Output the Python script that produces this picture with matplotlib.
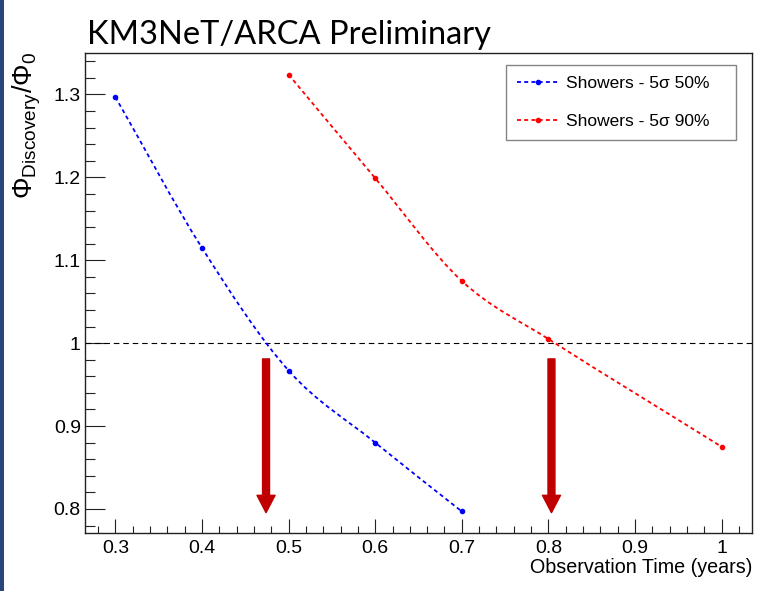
import matplotlib
matplotlib.use("Agg")
import matplotlib.pyplot as plt
from matplotlib.path import Path
from matplotlib.patches import PathPatch, FancyArrowPatch, Rectangle
from matplotlib.lines import Line2D
from matplotlib.ticker import MultipleLocator
import numpy as np

# ---- data -------------------------------------------------------------
obs_time_50 = [0.3, 0.4, 0.5, 0.6, 0.7]
ratio_50 = [1.297, 1.115, 0.967, 0.880, 0.797]

obs_time_90 = [0.5, 0.6, 0.7, 0.8, 1.0]
ratio_90 = [1.324, 1.199, 1.075, 1.005, 0.875]

series_labels = ["Showers - 5\u03c3 50%", "Showers - 5\u03c3 90%"]
series_colors = ["#0000ff", "#ff0000"]

# observation times where each curve reaches the reference flux
crossing_times = [0.474, 0.8035]
threshold = 1.0

title_text = "KM3NeT/ARCA Preliminary"
x_title = "Observation Time (years)"
y_title = r"$\Phi_{\rm Discovery}/\Phi_{0}$"

# ---- style ------------------------------------------------------------
plt.rcParams["font.family"] = ["Liberation Sans", "DejaVu Sans"]
plt.rcParams["mathtext.fontset"] = "custom"
plt.rcParams["mathtext.rm"] = "Liberation Sans"
plt.rcParams["mathtext.it"] = "Liberation Sans:italic"
plt.rcParams["mathtext.bf"] = "Liberation Sans:bold"

fig = plt.figure(figsize=(7.68, 5.91), dpi=100)
ax = fig.add_axes([85 / 768, 58 / 591, 667 / 768, 480 / 591])

# thin dark band on the left edge of the slide
fig.add_artist(Rectangle((0, 0), 4 / 768, 1, transform=fig.transFigure,
                         facecolor="#29457a", edgecolor="none"))


def smooth_path(xs, ys):
    """Cubic Hermite curve through the points, as a Bezier path."""
    xs = np.asarray(xs, float)
    ys = np.asarray(ys, float)
    n = len(xs)
    m = np.empty(n)
    m[0] = (ys[1] - ys[0]) / (xs[1] - xs[0])
    m[-1] = (ys[-1] - ys[-2]) / (xs[-1] - xs[-2])
    for i in range(1, n - 1):
        m[i] = (ys[i + 1] - ys[i - 1]) / (xs[i + 1] - xs[i - 1])
    verts = [(xs[0], ys[0])]
    codes = [Path.MOVETO]
    for i in range(n - 1):
        h = xs[i + 1] - xs[i]
        verts += [(xs[i] + h / 3, ys[i] + m[i] * h / 3),
                  (xs[i + 1] - h / 3, ys[i + 1] - m[i + 1] * h / 3),
                  (xs[i + 1], ys[i + 1])]
        codes += [Path.CURVE4] * 3
    return Path(verts, codes)


dash = (0, (2.2, 1.8))
handles = []
for xs, ys, col, lab in [(obs_time_50, ratio_50, series_colors[0], series_labels[0]),
                         (obs_time_90, ratio_90, series_colors[1], series_labels[1])]:
    ax.add_patch(PathPatch(smooth_path(xs, ys), facecolor="none", edgecolor=col,
                           linewidth=1.3, linestyle=dash, zorder=3))
    ax.plot(xs, ys, linestyle="none", marker="o", markersize=3.0, color=col, zorder=4)
    handles.append(Line2D([], [], color=col, linewidth=1.3, linestyle=dash,
                          marker="o", markersize=3.0, label=lab))

# reference level
ax.axhline(threshold, color="black", linewidth=0.8, linestyle=(0, (5, 3.5)), zorder=2)

# arrows marking the crossing times
for t in crossing_times:
    arr = FancyArrowPatch((t, 0.981), (t, 0.7955),
                          arrowstyle="simple,head_length=12.5,head_width=13,tail_width=5",
                          mutation_scale=1, shrinkA=0, shrinkB=0,
                          color="#c00000", zorder=5)
    ax.add_patch(arr)

ax.set_xlim(0.265, 1.035)
ax.set_ylim(0.771, 1.35)

ax.xaxis.set_major_locator(MultipleLocator(0.1))
ax.xaxis.set_minor_locator(MultipleLocator(0.02))
ax.yaxis.set_major_locator(MultipleLocator(0.1))
ax.yaxis.set_minor_locator(MultipleLocator(0.02))
ax.xaxis.set_major_formatter(plt.FuncFormatter(lambda v, p: f"{v:g}"))
ax.yaxis.set_major_formatter(plt.FuncFormatter(lambda v, p: f"{v:g}"))

ax.tick_params(axis="both", which="both", direction="in", top=False, right=False,
               width=0.8, colors="#222222", labelsize=14, labelcolor="black")
ax.tick_params(axis="y", which="major", length=14.4, pad=3)
ax.tick_params(axis="y", which="minor", length=7.2)
ax.tick_params(axis="x", which="major", length=10, pad=5)
ax.tick_params(axis="x", which="minor", length=5)

for sp in ax.spines.values():
    sp.set_linewidth(1.0)
    sp.set_color("#222222")

ax.set_xlabel(x_title, loc="right", fontsize=14.2, labelpad=1)

# y title, aligned with the top of the frame
fig.text(27 / 768, 1 - 52 / 591, y_title, rotation=90, fontsize=19.5,
         ha="center", va="top")

leg = ax.legend(handles=handles, loc="upper left",
                bbox_to_anchor=(506 / 768, 1 - 140 / 591, 230 / 768, 75 / 591),
                bbox_transform=fig.transFigure, mode="expand",
                fontsize=12.5, frameon=True, fancybox=False, shadow=False,
                handlelength=2.35, handletextpad=0.45, labelspacing=1.3,
                borderpad=0.65, borderaxespad=0, numpoints=1)
leg.get_frame().set_edgecolor("#666666")
leg.get_frame().set_linewidth(1.0)

fig.text(87 / 768, 1 - 44 / 591, title_text, fontsize=23.5, family=["Lato", "DejaVu Sans"],
         ha="left", va="baseline", color="black")

fig.savefig("out.png", dpi=100)
